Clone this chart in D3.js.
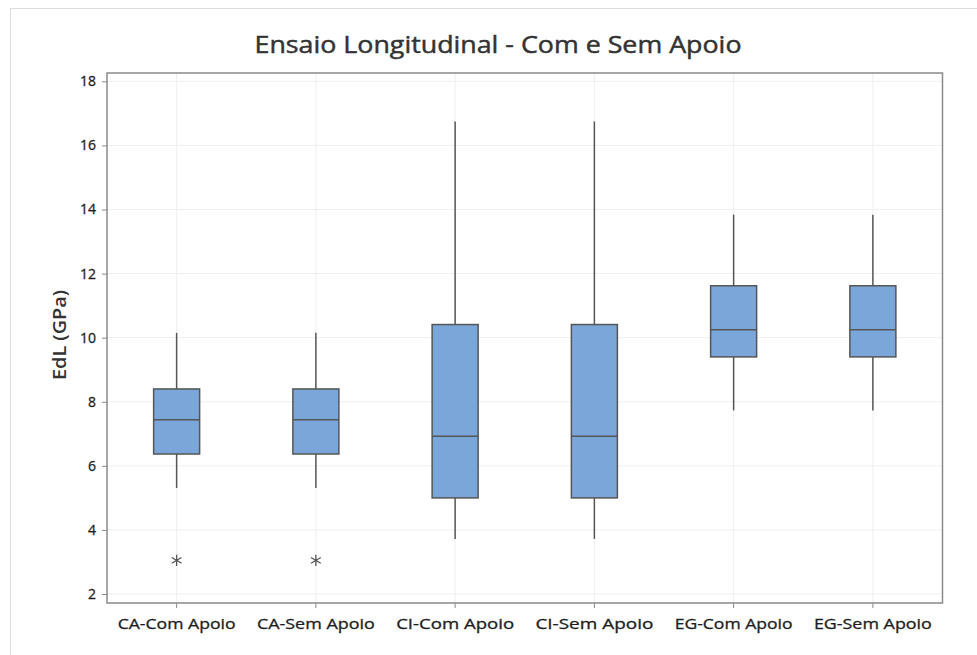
<!DOCTYPE html>
<html>
<head>
<meta charset="utf-8">
<script src="https://cdn.jsdelivr.net/npm/d3@7"></script>
<style>
  html, body { margin: 0; padding: 0; background: #fff; }
  svg { display: block; font-family: "Open Sans", "Noto Sans", sans-serif; }
</style>
</head>
<body>
<svg id="chart" width="977" height="655"></svg>
<script>
// Groups along the x axis
const categories = ["CA-Com Apoio", "CA-Sem Apoio", "CI-Com Apoio", "CI-Sem Apoio", "EG-Com Apoio", "EG-Sem Apoio"];
// Five-number summaries per group (GPa)
const whiskerLow  = [5.31, 5.31, 3.72, 3.72, 7.73, 7.73];
const q1          = [6.37, 6.37, 5.00, 5.00, 9.40, 9.40];
const median      = [7.44, 7.44, 6.92, 6.92, 10.25, 10.25];
const q3          = [8.40, 8.40, 10.41, 10.41, 11.62, 11.62];
const whiskerHigh = [10.15, 10.15, 16.75, 16.75, 13.84, 13.84];
// Outliers: [group index, value]
const outliers = [[0, 3.05], [1, 3.05]];
const yTicks = [2, 4, 6, 8, 10, 12, 14, 16, 18];

const svg = d3.select("#chart");
const plot = { left: 107, right: 942.5, top: 73, bottom: 603 };

// Outer frame of the graph region
svg.append("rect")
  .attr("x", 10.5).attr("y", 8.5)
  .attr("width", 990).attr("height", 700)
  .attr("fill", "none").attr("stroke", "#dcdcdc").attr("stroke-width", 1);

const x = d3.scaleBand().domain(categories).range([plot.left, plot.right]).padding(0);
const y = d3.scaleLinear().domain([1.72, 18.26]).range([plot.bottom, plot.top]);

// Gridlines
const grid = svg.append("g");
grid.selectAll("line.h").data(yTicks).join("line")
  .attr("x1", plot.left).attr("x2", plot.right)
  .attr("y1", d => y(d)).attr("y2", d => y(d))
  .attr("stroke", "#efefef").attr("stroke-width", 1);
grid.selectAll("line.v").data(categories).join("line")
  .attr("x1", d => x(d) + x.bandwidth() / 2).attr("x2", d => x(d) + x.bandwidth() / 2)
  .attr("y1", plot.top).attr("y2", plot.bottom)
  .attr("stroke", "#efefef").attr("stroke-width", 1);

// Axes
const yAxis = svg.append("g")
  .attr("transform", `translate(${plot.left},0)`)
  .call(d3.axisLeft(y).tickValues(yTicks).tickSize(5).tickPadding(6));
const xAxis = svg.append("g")
  .attr("transform", `translate(0,${plot.bottom})`)
  .call(d3.axisBottom(x).tickSize(5).tickPadding(10));
[yAxis, xAxis].forEach(g => {
  g.select(".domain").remove();
  g.selectAll(".tick line").attr("stroke", "#888");
  g.selectAll(".tick text").attr("fill", "#1e1e1e")
    .attr("stroke", "#1e1e1e").attr("stroke-width", 0.3)
    .style("font-family", "'Open Sans', sans-serif");
});
yAxis.selectAll(".tick text").style("font-size", "14px");
xAxis.selectAll(".tick text").style("font-size", "15px")
  .attr("textLength", 118).attr("lengthAdjust", "spacingAndGlyphs");

// Boxes
const boxW = 46;
const g = svg.append("g");
categories.forEach((c, i) => {
  const cx = x(c) + x.bandwidth() / 2;
  g.append("line")
    .attr("x1", cx).attr("x2", cx)
    .attr("y1", y(whiskerHigh[i])).attr("y2", y(q3[i]))
    .attr("stroke", "#555").attr("stroke-width", 1.5);
  g.append("line")
    .attr("x1", cx).attr("x2", cx)
    .attr("y1", y(q1[i])).attr("y2", y(whiskerLow[i]))
    .attr("stroke", "#555").attr("stroke-width", 1.5);
  g.append("rect")
    .attr("x", cx - boxW / 2).attr("y", y(q3[i]))
    .attr("width", boxW).attr("height", y(q1[i]) - y(q3[i]))
    .attr("fill", "#7ba6da").attr("stroke", "#555").attr("stroke-width", 1.5);
  g.append("line")
    .attr("x1", cx - boxW / 2).attr("x2", cx + boxW / 2)
    .attr("y1", y(median[i])).attr("y2", y(median[i]))
    .attr("stroke", "#555").attr("stroke-width", 1.5);
});

// Outlier markers (asterisk)
const star = d3.symbol().type(d3.symbolAsterisk).size(90);
g.selectAll("path.out").data(outliers).join("path")
  .attr("transform", d => `translate(${x(categories[d[0]]) + x.bandwidth() / 2},${y(d[1])})`)
  .attr("d", star())
  .attr("fill", "none").attr("stroke", "#555").attr("stroke-width", 1.3);

// Plot frame
svg.append("rect")
  .attr("x", plot.left).attr("y", plot.top)
  .attr("width", plot.right - plot.left).attr("height", plot.bottom - plot.top)
  .attr("fill", "none").attr("stroke", "#8a8a8a").attr("stroke-width", 1.5);

// Title
svg.append("text")
  .attr("x", 498).attr("y", 53)
  .attr("text-anchor", "middle")
  .attr("fill", "#333").attr("stroke", "#333").attr("stroke-width", 0.45)
  .style("font-size", "23px")
  .attr("textLength", 487).attr("lengthAdjust", "spacingAndGlyphs")
  .text("Ensaio Longitudinal - Com e Sem Apoio");

// Y axis title
svg.append("text")
  .attr("transform", "translate(66,335) rotate(-90)")
  .attr("text-anchor", "middle")
  .attr("fill", "#333")
  .style("font-size", "18px")
  .style("font-weight", "600")
  .attr("textLength", 90).attr("lengthAdjust", "spacingAndGlyphs")
  .text("EdL (GPa)");
</script>
</body>
</html>
